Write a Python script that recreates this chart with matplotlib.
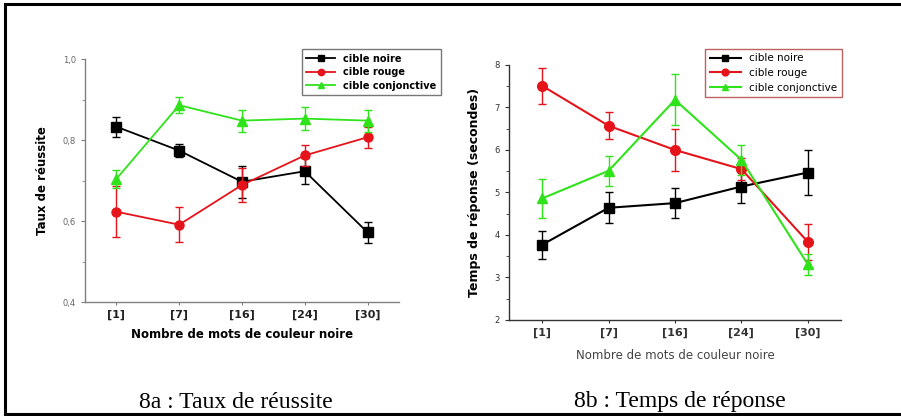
import matplotlib
matplotlib.use("Agg")
import matplotlib.pyplot as plt
from matplotlib.lines import Line2D
from matplotlib.ticker import MultipleLocator, FuncFormatter

categories = ["[1]", "[7]", "[16]", "[24]", "[30]"]
series_names = ["cible noire", "cible rouge", "cible conjonctive"]

# 8a : taux de reussite
taux_noire = [0.833, 0.774, 0.697, 0.723, 0.572]
taux_noire_err = [0.025, 0.017, 0.040, 0.032, 0.026]
taux_rouge = [0.623, 0.591, 0.689, 0.762, 0.807]
taux_rouge_err = [0.063, 0.044, 0.043, 0.027, 0.026]
taux_conj = [0.704, 0.886, 0.848, 0.853, 0.848]
taux_conj_err = [0.023, 0.020, 0.027, 0.028, 0.027]

# 8b : temps de reponse (secondes)
temps_noire = [3.77, 4.64, 4.75, 5.14, 5.47]
temps_noire_err = [0.33, 0.36, 0.35, 0.39, 0.53]
temps_rouge = [7.51, 6.57, 6.00, 5.55, 3.84]
temps_rouge_err = [0.43, 0.32, 0.49, 0.25, 0.43]
temps_conj = [4.86, 5.51, 7.18, 5.77, 3.31]
temps_conj_err = [0.46, 0.36, 0.60, 0.35, 0.24]

colors = ["#000000", "#e5141a", "#2fe31b"]
markers = ["s", "o", "^"]

fig = plt.figure(figsize=(9.01, 4.16), dpi=100)
fig.patch.set_facecolor("white")

x = list(range(len(categories)))


def draw(ax, data, errs, msize, lw):
    for vals, err, c, m, name in zip(data, errs, colors, markers, series_names):
        ax.errorbar(x, vals, yerr=err, fmt="none", ecolor=c, elinewidth=1.0,
                    capsize=3, capthick=1.0)
        ax.plot(x, vals, color=c, marker=m, markersize=msize, linewidth=lw,
                label=name)
    ax.set_xlim(-0.5, 4.5)
    ax.set_xticks(x)
    ax.set_xticklabels(categories)
    for s in ["top", "right"]:
        ax.spines[s].set_visible(False)


# ---- 8a
ax1 = fig.add_axes([0.0943, 0.274, 0.3485, 0.584])
draw(ax1, [taux_noire, taux_rouge, taux_conj],
     [taux_noire_err, taux_rouge_err, taux_conj_err], 6.5, 1.3)
ax1.set_ylim(0.4, 1.0)
ax1.yaxis.set_major_locator(MultipleLocator(0.2))
ax1.yaxis.set_minor_locator(MultipleLocator(0.1))
ax1.yaxis.set_major_formatter(FuncFormatter(lambda v, p: f"{v:.1f}".replace(".", ",")))
for s in ["left", "bottom"]:
    ax1.spines[s].set_color("#808080")
    ax1.spines[s].set_linewidth(1.0)
ax1.tick_params(axis="y", which="both", colors="#808080", labelsize=6, length=3, labelcolor="#666666")
ax1.tick_params(axis="y", which="minor", length=2)
ax1.tick_params(axis="x", colors="#808080", length=2, labelcolor="#222222")
for t in ax1.get_xticklabels():
    t.set_fontweight("bold")
    t.set_fontsize(8)
ax1.set_ylabel("Taux de réussite", fontsize=8.5, fontweight="bold", labelpad=10)
ax1.set_xlabel("Nombre de mots de couleur noire", fontsize=8.5, fontweight="bold", labelpad=6)
leg1 = ax1.legend(loc="upper left", bbox_to_anchor=(0.675, 1.06), frameon=True,
                  fancybox=False, handlelength=3, borderpad=0.45, markerscale=0.7,
                  labelspacing=0.35, prop={"weight": "bold", "size": 7})
leg1.get_frame().set_edgecolor("#555555")
leg1.get_frame().set_linewidth(1.0)

# ---- 8b
ax2 = fig.add_axes([0.5649, 0.2308, 0.3685, 0.613])
draw(ax2, [temps_noire, temps_rouge, temps_conj],
     [temps_noire_err, temps_rouge_err, temps_conj_err], 7, 1.5)
ax2.set_ylim(2, 8)
ax2.yaxis.set_major_locator(MultipleLocator(1))
ax2.yaxis.set_minor_locator(MultipleLocator(0.5))
for s in ["left", "bottom"]:
    ax2.spines[s].set_color("#333333")
    ax2.spines[s].set_linewidth(1.0)
ax2.tick_params(axis="y", which="both", colors="#333333", labelsize=6, length=3)
ax2.tick_params(axis="y", which="minor", length=2)
ax2.tick_params(axis="x", colors="#333333", length=2)
for t in ax2.get_xticklabels():
    t.set_fontweight("bold")
    t.set_fontsize(8)
ax2.set_ylabel("Temps de réponse (secondes)", fontsize=9, fontweight="bold", labelpad=10)
ax2.set_xlabel("Nombre de mots de couleur noire", fontsize=8.5, color="#444444", labelpad=8)
leg2 = ax2.legend(loc="upper left", bbox_to_anchor=(0.575, 1.085), frameon=True,
                  fancybox=False, handlelength=3, borderpad=0.45, markerscale=0.7,
                  labelspacing=0.45, prop={"size": 7.5})
leg2.get_frame().set_edgecolor("#b03a3a")
leg2.get_frame().set_linewidth(1.0)

# captions
fig.text(236 / 901, 1 - 402 / 416, "8a : Taux de réussite", family="Liberation Serif",
         fontsize=17, ha="center", va="center")
fig.text(680 / 901, 1 - 402 / 416, "8b : Temps de réponse", family="Liberation Serif",
         fontsize=17, ha="center", va="center")

# frame lines
fig.add_artist(Line2D([5 / 901, 1.0], [1 - 4 / 416, 1 - 4 / 416], color="black", linewidth=2.2, transform=fig.transFigure))
fig.add_artist(Line2D([5 / 901, 5 / 901], [1 - 4 / 416, 1 - 414 / 416], color="black", linewidth=2.2, transform=fig.transFigure))
fig.add_artist(Line2D([5 / 901, 1.0], [1 - 414 / 416, 1 - 414 / 416], color="black", linewidth=2.2, transform=fig.transFigure))

fig.savefig("out.png", dpi=100)
